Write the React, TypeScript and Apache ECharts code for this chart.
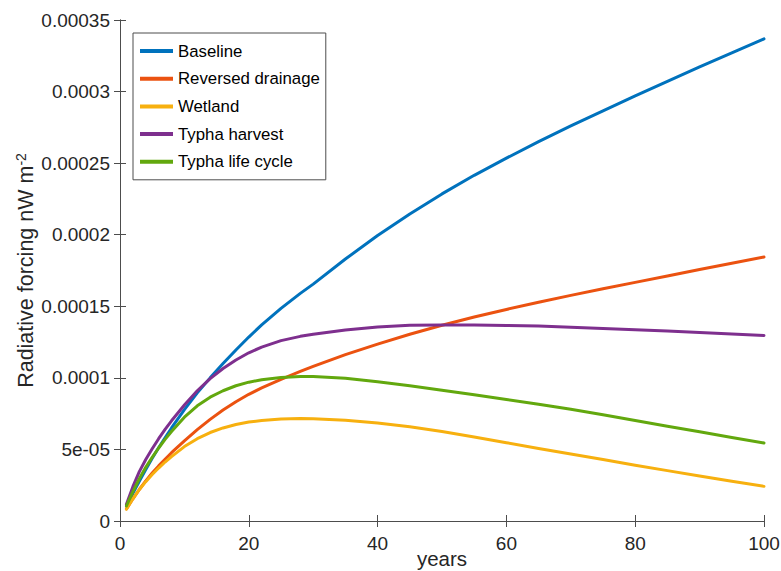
import React, { useEffect, useRef } from "react";
import * as echarts from "echarts";

const years = [1, 2, 3, 4, 5, 6, 7, 8, 10, 12, 14, 16, 18, 20, 22, 25, 28, 30, 35, 40, 45, 50, 55, 60, 65, 70, 75, 80, 85, 90, 95, 100];

const baseline = [1.05e-5, 1.93e-5, 2.78e-5, 3.6e-5, 4.38e-5, 5.12e-5, 5.82e-5, 6.5e-5, 7.78e-5, 8.95e-5, 1.0e-4, 1.1e-4, 1.195e-4, 1.285e-4, 1.37e-4, 1.485e-4, 1.59e-4, 1.655e-4, 1.83e-4, 1.995e-4, 2.145e-4, 2.285e-4, 2.415e-4, 2.535e-4, 2.65e-4, 2.76e-4, 2.865e-4, 2.97e-4, 3.072e-4, 3.172e-4, 3.27e-4, 3.368e-4];

const reversedDrainage = [0.85e-5, 1.55e-5, 2.2e-5, 2.8e-5, 3.35e-5, 3.85e-5, 4.32e-5, 4.77e-5, 5.6e-5, 6.38e-5, 7.1e-5, 7.75e-5, 8.33e-5, 8.85e-5, 9.3e-5, 9.9e-5, 1.045e-4, 1.08e-4, 1.162e-4, 1.236e-4, 1.305e-4, 1.368e-4, 1.425e-4, 1.478e-4, 1.528e-4, 1.576e-4, 1.622e-4, 1.667e-4, 1.712e-4, 1.757e-4, 1.801e-4, 1.844e-4];

const wetland = [0.82e-5, 1.55e-5, 2.2e-5, 2.75e-5, 3.25e-5, 3.7e-5, 4.12e-5, 4.5e-5, 5.2e-5, 5.75e-5, 6.18e-5, 6.5e-5, 6.74e-5, 6.91e-5, 7.02e-5, 7.12e-5, 7.16e-5, 7.15e-5, 7.04e-5, 6.85e-5, 6.58e-5, 6.25e-5, 5.87e-5, 5.47e-5, 5.07e-5, 4.68e-5, 4.29e-5, 3.9e-5, 3.52e-5, 3.15e-5, 2.78e-5, 2.42e-5];

const typhaHarvest = [1.17e-5, 2.4e-5, 3.45e-5, 4.3e-5, 5.05e-5, 5.75e-5, 6.4e-5, 7.0e-5, 8.1e-5, 9.1e-5, 9.95e-5, 1.065e-4, 1.125e-4, 1.175e-4, 1.215e-4, 1.26e-4, 1.29e-4, 1.305e-4, 1.335e-4, 1.355e-4, 1.367e-4, 1.37e-4, 1.369e-4, 1.366e-4, 1.362e-4, 1.354e-4, 1.345e-4, 1.336e-4, 1.327e-4, 1.317e-4, 1.307e-4, 1.296e-4];

const typhaLifeCycle = [1.05e-5, 2.05e-5, 2.95e-5, 3.75e-5, 4.45e-5, 5.1e-5, 5.7e-5, 6.25e-5, 7.25e-5, 8.05e-5, 8.65e-5, 9.1e-5, 9.45e-5, 9.7e-5, 9.87e-5, 1.002e-4, 1.009e-4, 1.01e-4, 9.97e-5, 9.73e-5, 9.45e-5, 9.14e-5, 8.82e-5, 8.49e-5, 8.15e-5, 7.8e-5, 7.42e-5, 7.02e-5, 6.62e-5, 6.23e-5, 5.84e-5, 5.45e-5];

const seriesNames = ["Baseline", "Reversed drainage", "Wetland", "Typha harvest", "Typha life cycle"];
const seriesColors = ["#0072BD", "#EB5210", "#F7B00F", "#7E2F8E", "#62A80E"];

const yTickLabels = ["0", "5e-05", "0.0001", "0.00015", "0.0002", "0.00025", "0.0003", "0.00035"];
const xTicks = { min: 0, max: 100, interval: 20 };
const yTicks = { min: 0, max: 0.00035, interval: 0.00005 };

const axisColor = "#4d4d4d";
const textColor = "#262626";
const FONT = "Liberation Sans, Arial, Helvetica, sans-serif";

export default function App() {
  const ref = useRef<HTMLDivElement>(null);
  useEffect(() => {
    if (!ref.current) return;
    const chart = echarts.init(ref.current, undefined, { renderer: "svg" });
    const allValues = [baseline, reversedDrainage, wetland, typhaHarvest, typhaLifeCycle];
    const axisLineStyle = { show: true, lineStyle: { color: axisColor, width: 1 } };
    const tickStyle = { show: true, inside: true, length: 6, lineStyle: { color: axisColor, width: 1 } };
    chart.setOption({
      animation: false,
      backgroundColor: "#ffffff",
      textStyle: { fontFamily: FONT },
      grid: { left: 120, right: 17, top: 20, bottom: 50, containLabel: false, outerBoundsMode: "none" },
      legend: {
        orient: "vertical",
        left: 133,
        top: 33,
        padding: [8, 6, 8, 7],
        itemGap: 7.7,
        itemWidth: 33,
        itemHeight: 4,
        icon: "rect",
        borderColor: axisColor,
        borderWidth: 1,
        backgroundColor: "#ffffff",
        data: seriesNames,
        textStyle: { fontSize: 16.8, color: "#000000", fontFamily: FONT, lineHeight: 20 },
      },
      xAxis: [
        {
          type: "value",
          min: xTicks.min,
          max: xTicks.max,
          interval: xTicks.interval,
          name: "years",
          nameLocation: "middle",
          nameGap: 27,
          nameMoveOverlap: false,
          nameTextStyle: { fontSize: 20.5, color: textColor, fontFamily: FONT },
          axisLine: axisLineStyle,
          axisTick: tickStyle,
          splitLine: { show: false },
          axisLabel: { fontSize: 19, color: textColor, margin: 13, fontFamily: FONT },
        },
        {
          type: "value",
          position: "top",
          min: xTicks.min,
          max: xTicks.max,
          interval: xTicks.interval,
          axisLine: axisLineStyle,
          axisTick: tickStyle,
          splitLine: { show: false },
          axisLabel: { show: false },
        },
      ],
      yAxis: [
        {
          type: "value",
          min: yTicks.min,
          max: yTicks.max,
          interval: yTicks.interval,
          name: "Radiative forcing nW m{sup|-2}",
          nameLocation: "middle",
          nameGap: 82,
          nameMoveOverlap: false,
          nameTextStyle: {
            fontSize: 21.5,
            color: textColor,
            fontFamily: FONT,
            rich: {
              sup: { fontSize: 14, color: textColor, fontFamily: FONT, verticalAlign: "top", padding: [0, 0, 10, 0] },
            },
          },
          axisLine: axisLineStyle,
          axisTick: tickStyle,
          splitLine: { show: false },
          axisLabel: {
            fontSize: 19,
            color: textColor,
            margin: 10,
            fontFamily: FONT,
            formatter: (v: number) => {
              const i = Math.round(v / yTicks.interval);
              return yTickLabels[i] ?? String(v);
            },
          },
        },
        {
          type: "value",
          position: "right",
          min: yTicks.min,
          max: yTicks.max,
          interval: yTicks.interval,
          axisLine: axisLineStyle,
          axisTick: tickStyle,
          splitLine: { show: false },
          axisLabel: { show: false },
        },
      ],
      series: seriesNames.map((name, si) => ({
        name,
        type: "line",
        xAxisIndex: 0,
        yAxisIndex: 0,
        data: years.map((yr, i) => [yr, allValues[si][i]]),
        showSymbol: false,
        symbol: "none",
        smooth: false,
        lineStyle: { width: 3, color: seriesColors[si], join: "round", cap: "round" },
        itemStyle: { color: seriesColors[si] },
        emphasis: { disabled: true },
      })),
    });
    return () => chart.dispose();
  }, []);
  return (
    <div
      ref={ref}
      style={{ position: "absolute", left: 0, top: 0, width: 781, height: 571 }}
    />
  );
}
